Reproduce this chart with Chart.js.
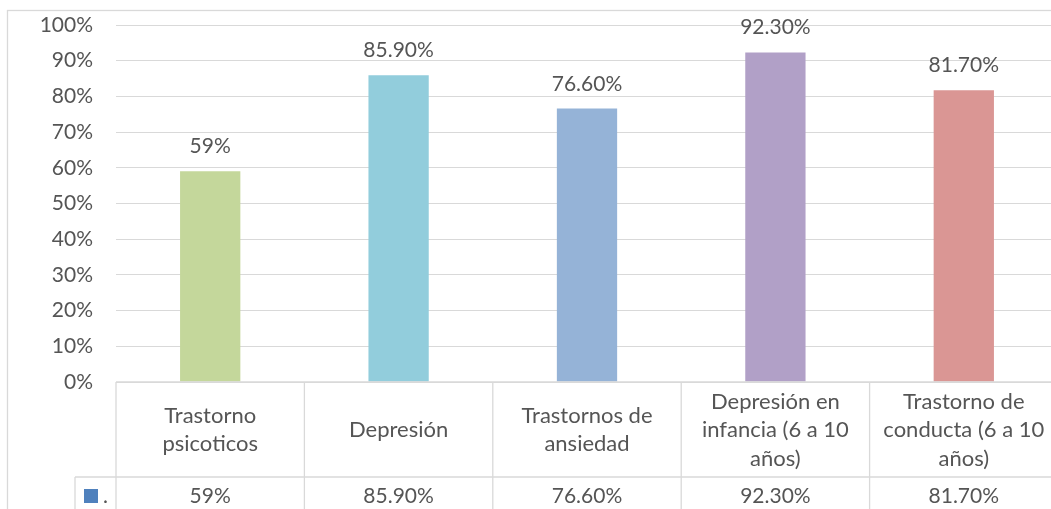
<!DOCTYPE html>
<html>
<head>
<meta charset="utf-8">
<script src="https://cdn.jsdelivr.net/npm/chart.js@4.4.1/dist/chart.umd.min.js"></script>
<style>
  html, body { margin: 0; padding: 0; background: #fff; overflow: hidden; }
  #wrap { width: 1051px; height: 509px; overflow: hidden; }
</style>
</head>
<body>
<div id="wrap"><canvas id="chart" width="1080" height="509"></canvas></div>
<script>
// categories (multi-line as shown in the table) and values in percent
var categories = [
  ['Trastorno', 'psicoticos'],
  ['Depresión'],
  ['Trastornos de', 'ansiedad'],
  ['Depresión en', 'infancia (6 a 10', 'años)'],
  ['Trastorno de', 'conducta (6 a 10', 'años)']
];
var values = [59, 85.9, 76.6, 92.3, 81.7];
var barColors = ['#C4D79B', '#92CDDC', '#95B3D7', '#B1A0C7', '#DA9694'];
var yTicks = [0, 10, 20, 30, 40, 50, 60, 70, 80, 90, 100];

var FONT = 'Lato, "Open Sans", sans-serif';
var TEXT = '#555555';
var LINE = '#D9D9D9';

function fmt(v) {
  return (Number.isInteger(v) ? v : v.toFixed(2)) + '%';
}

// value labels above each bar
var barLabels = {
  id: 'barLabels',
  afterDatasetsDraw: function (chart) {
    var ctx = chart.ctx;
    var meta = chart.getDatasetMeta(0);
    ctx.save();
    ctx.font = '21px ' + FONT;
    ctx.fillStyle = TEXT;
    ctx.textAlign = 'center';
    ctx.textBaseline = 'alphabetic';
    meta.data.forEach(function (bar, i) {
      ctx.fillText(fmt(values[i]), bar.x, bar.y - 18);
    });
    ctx.restore();
  }
};

// data table under the plot plus the outer frame
var dataTable = {
  id: 'dataTable',
  afterDraw: function (chart) {
    var ctx = chart.ctx;
    var area = chart.chartArea;
    var x = chart.scales.x;
    var n = chart.data.labels.length;
    var colW = (area.right - area.left) / n;
    var top = area.bottom;
    var rowSplit = 477;
    var bottom = chart.height + 20;

    ctx.save();
    ctx.strokeStyle = LINE;
    ctx.lineWidth = 1.3;

    // outer frame
    ctx.strokeRect(7.5, 10.5, chart.width + 20, chart.height + 20);

    ctx.beginPath();
    ctx.moveTo(area.left, top);
    ctx.lineTo(chart.width + 10, top);
    ctx.moveTo(75, rowSplit);
    ctx.lineTo(chart.width + 10, rowSplit);
    ctx.moveTo(75, rowSplit);
    ctx.lineTo(75, bottom);
    for (var c = 0; c <= n; c++) {
      var lx = area.left + c * colW;
      ctx.moveTo(lx, top);
      ctx.lineTo(lx, bottom);
    }
    ctx.stroke();

    ctx.fillStyle = TEXT;
    ctx.font = '22px ' + FONT;
    ctx.textAlign = 'center';
    ctx.textBaseline = 'alphabetic';
    var lh = 28.5;
    var rowMid = (top + rowSplit) / 2;
    chart.data.labels.forEach(function (lines, i) {
      var cx = x.getPixelForValue(i);
      lines.forEach(function (t, k) {
        var by = rowMid + (k - (lines.length - 1) / 2) * lh + 7.5;
        ctx.fillText(t, cx, by);
      });
    });
    ctx.font = '21px ' + FONT;
    chart.data.labels.forEach(function (lines, i) {
      ctx.fillText(fmt(values[i]), x.getPixelForValue(i), 503);
    });

    // legend key
    ctx.fillStyle = '#4F81BD';
    ctx.fillRect(84, 489, 14, 14);
    ctx.fillStyle = TEXT;
    ctx.textAlign = 'left';
    ctx.fillText('.', 103, 503);
    ctx.restore();
  }
};

new Chart(document.getElementById('chart').getContext('2d'), {
  type: 'bar',
  data: {
    labels: categories,
    datasets: [{
      label: '.',
      data: values,
      backgroundColor: barColors,
      borderWidth: 0,
      barPercentage: 1,
      categoryPercentage: 0.32
    }]
  },
  options: {
    responsive: false,
    animation: false,
    layout: { padding: { top: 25, bottom: 127, left: 0, right: 22 } },
    plugins: {
      legend: { display: false },
      tooltip: { enabled: false }
    },
    scales: {
      x: { display: false },
      y: {
        min: 0,
        max: 100,
        afterFit: function (scale) { scale.width = 116; },
        afterBuildTicks: function (scale) {
          scale.ticks = yTicks.map(function (v) { return { value: v }; });
        },
        border: { display: false },
        grid: { color: LINE, lineWidth: 1, drawTicks: true, tickLength: 23, tickColor: 'rgba(0,0,0,0)' },
        ticks: {
          padding: 0,
          color: TEXT,
          font: { family: FONT, size: 21 },
          callback: function (v) { return v + '%'; }
        }
      }
    }
  },
  plugins: [barLabels, dataTable]
});
</script>
</body>
</html>
